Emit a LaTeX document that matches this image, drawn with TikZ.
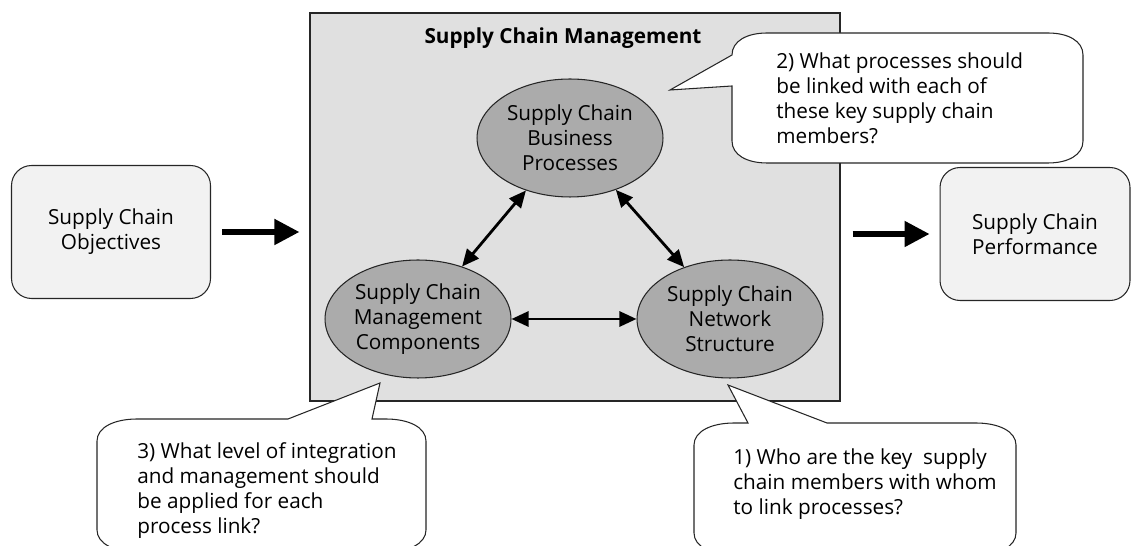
\documentclass[tikz,border=0pt]{standalone}
\usepackage{fontspec}
\setmainfont{Open Sans}
\usetikzlibrary{positioning, shapes.geometric, arrows.meta}

\begin{document}
\begin{tikzpicture}[x=0.02cm, y=-0.02cm,
    every node/.style={font=\fontsize{11.8}{14.3}\selectfont, inner sep=0pt},
    endbox/.style={draw=black!85, fill=black!5, line width=0.6pt, rounded corners=0.4cm,
      minimum height=2.66cm, align=center},
    element/.style={ellipse, draw=black!85, fill=black!33, line width=0.6pt,
      minimum width=3.72cm, minimum height=2.36cm, align=center},
    link/.style={{Triangle[length=0.34cm, width=0.3cm]}-{Triangle[length=0.34cm, width=0.3cm]},
      line width=1.6pt},
    flow/.style={-{Triangle[length=0.5cm, width=0.5cm]}, line width=2.9pt},
    callout/.style={draw=black!85, fill=white, line width=0.6pt},
    question/.style={anchor=north west, align=left}]
  \useasboundingbox (0,0) rectangle (1132,546);
  \clip (0,0) rectangle (1132,546);

  % management frame
  \node[draw=black!85, fill=black!12, line width=0.8pt, minimum width=10.6cm,
    minimum height=7.76cm] (scm) at (575,207) {};
  \node[font=\fontsize{11.8}{14.3}\selectfont\bfseries] (title) at (563,38) {Supply Chain Management};

  % the three elements
  \node[element] (bp) at (570,138) {Supply Chain\\Business\\Processes};
  \node[element] (mc) at (418,319) {Supply Chain\\Management\\Components};
  \node[element, right=2.5cm of mc] (ns) {Supply Chain\\Network\\Structure};
  \draw[link] (mc) -- (bp);
  \draw[link] (bp) -- (ns);
  \draw[link] (mc) -- (ns);

  % objectives and performance
  \node[endbox, minimum width=3.98cm] (obj) at (111,232) {Supply Chain\\Objectives};
  \node[endbox, minimum width=3.8cm] (perf) at (1035,234) {Supply Chain\\Performance};
  \draw[flow, shorten <=0.22cm, shorten >=0.2cm] (obj.east) -- (obj.east -| scm.west);
  \draw[flow, shorten <=0.24cm, shorten >=0.2cm] (perf.west -| scm.east) -- (perf.west);

  % question callouts
  \draw[callout] (732,86) -- (732,141) .. controls (732,155) and (747,163) .. (767,163)
    -- (1048,163) .. controls (1068,163) and (1083,155) .. (1083,141)
    -- (1083,55) .. controls (1083,41) and (1068,33) .. (1048,33)
    -- (767,33) .. controls (747,33) and (732,41) .. (732,55) -- (670,90) -- cycle;
  \node[question] (q2) at (776,52) {2) What processes should\\be linked with each of\\these key supply chain\\members?};

  \draw[callout] (97,441) .. controls (97,427) and (115,419) .. (137,419) -- (288,419)
    -- (380,383) -- (372,419) -- (386,419) .. controls (408,419) and (426,427) .. (426,441)
    -- (426,530) .. controls (426,544) and (408,552) .. (386,552)
    -- (137,552) .. controls (115,552) and (97,544) .. (97,530) -- cycle;
  \node[question] (q3) at (137,442) {3) What level of integration\\and management should\\be applied for each\\process link?};

  \draw[callout] (694,445) .. controls (694,431) and (712,423) .. (734,423) -- (748,423)
    -- (728,385) -- (827,423) -- (976,423) .. controls (998,423) and (1016,431) .. (1016,445)
    -- (1016,533) .. controls (1016,547) and (998,555) .. (976,555)
    -- (734,555) .. controls (712,555) and (694,547) .. (694,533) -- cycle;
  \node[question] (q1) at (733,448) {1) Who are the key~ supply\\chain members with whom\\to link processes?};
\end{tikzpicture}
\end{document}
